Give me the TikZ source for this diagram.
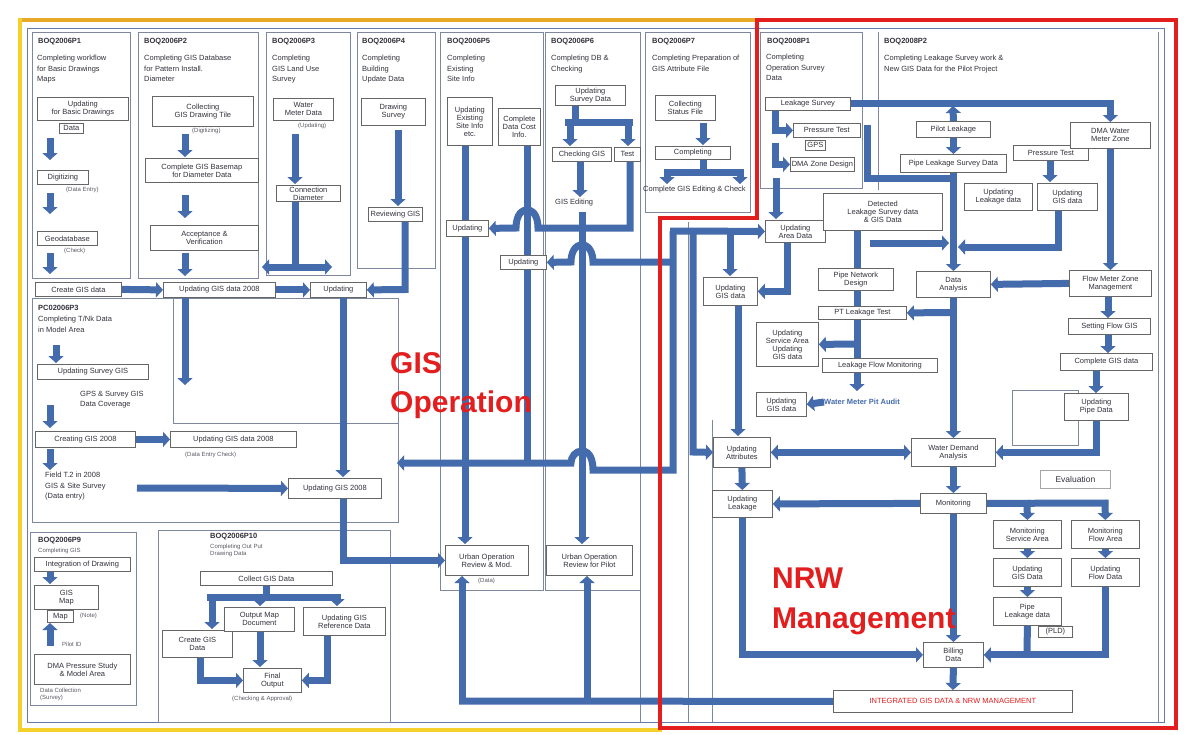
\documentclass[tikz,border=0pt]{standalone}
\usepackage{fontspec}
\setmainfont{Liberation Sans}
\usetikzlibrary{arrows.meta}
\pgfdeclarelayer{back}
\pgfdeclarelayer{bg}
\pgfsetlayers{back,bg,main}
\definecolor{ab}{RGB}{68,108,172}
\definecolor{goldt}{RGB}{232,168,40}
\definecolor{goldl}{RGB}{244,208,44}
\definecolor{nrwred}{RGB}{226,30,30}
\definecolor{pl}{RGB}{125,135,158}
\definecolor{fr}{RGB}{100,122,168}
\definecolor{txt}{RGB}{50,50,60}
\tikzset{
 bx/.style={draw=black!60, fill=white, line width=0.8pt, inner sep=1pt, font=\fontsize{7.5}{8}\selectfont, text=txt, align=center, anchor=north west},
 lbl/.style={inner sep=0pt, font=\fontsize{7.5}{10.5}\selectfont, text=txt, align=left, anchor=north west},
 sml/.style={inner sep=0pt, font=\fontsize{6}{7}\selectfont, text=txt!80, align=left, anchor=north west},
 hdr/.style={inner sep=0pt, font=\fontsize{7.5}{8}\selectfont\bfseries, text=txt, anchor=north west},
 panel/.style={draw=pl, line width=0.8pt},
 flow/.style={draw=ab, line width=7pt, -{Triangle[length=7pt,width=15pt]}},
 flowtwo/.style={draw=ab, line width=7pt, {Triangle[length=7pt,width=15pt]}-{Triangle[length=7pt,width=15pt]}},
 link/.style={draw=ab, line width=7pt},
 big/.style={font=\fontsize{30}{32}\selectfont\bfseries, text=nrwred, anchor=base west, inner sep=0pt},
}
\begin{document}
\begin{tikzpicture}[x=1pt,y=-1pt]
\useasboundingbox (0,0) rectangle (1186,734);

% ---------- panels (back layer)
\begin{pgfonlayer}{back}
\fill[white] (0,0) rectangle (1186,734);
\draw[fr, line width=1pt] (27,28) rectangle (1164,722);
\draw[panel] (32,32) rectangle (130,278);
\draw[panel] (138,32) rectangle (258,278);
\draw[panel] (266,32) rectangle (350,275);
\draw[panel] (357,32) rectangle (435,268);
\draw[panel] (440,32) rectangle (543,590);
\draw[panel] (545,32) rectangle (640,590);
\draw[panel] (645,32) rectangle (750,212);
\draw[panel] (760,32) rectangle (862,188);
\draw[panel] (878,32) -- (878,190);
\draw[panel] (1158,32) -- (1158,722);
\draw[panel] (32,298) rectangle (398,522);
\draw[panel] (173,298) -- (173,423) -- (398,423);
\draw[panel] (30,532) rectangle (136,705);
\draw[panel] (158,530) rectangle (390,722);
\draw[panel] (640,590) -- (640,722);
\draw[panel] (688,222) -- (688,722);
\draw[panel] (712,420) -- (712,722);
\draw[panel] (1012,390) rectangle (1078,445);
\end{pgfonlayer}

% ---------- panel 1
\node[hdr] (h1) at (38,38) {BOQ2006P1};
\node[lbl] (d1) at (37,55) {Completing workflow\\for Basic Drawings\\Maps};
\node[bx, minimum width=91pt, minimum height=23pt] (n11) at (37,97) {Updating\\for Basic Drawings};
\node[bx, minimum width=24pt, minimum height=10pt] (n11b) at (59,123) {Data};
\node[bx, minimum width=51pt, minimum height=14pt] (n12) at (37,170) {Digitizing};
\node[sml] (s12) at (66,187) {(Data Entry)};
\node[bx, minimum width=60pt, minimum height=14pt] (n13) at (37,231) {Geodatabase};
\node[sml] (s13) at (64,248) {(Check)};
\node[bx, minimum width=86pt, minimum height=14pt] (n14) at (35,282) {Create GIS data};

% ---------- panel 2
\node[hdr] (h2) at (144,38) {BOQ2006P2};
\node[lbl] (d2) at (144,55) {Completing GIS Database\\for Pattern Install.\\Diameter};
\node[bx, minimum width=101pt, minimum height=30pt] (n21) at (152,96) {Collecting\\GIS Drawing Tile};
\node[sml] (s21) at (192,128) {(Digitizing)};
\node[bx, minimum width=113pt, minimum height=24pt] (n22) at (145,158) {Complete GIS Basemap\\for Diameter Data};
\node[bx, minimum width=108pt, minimum height=25pt] (n23) at (150,225) {Acceptance \&\\Verification};
\node[bx, minimum width=112pt, minimum height=15pt] (n24) at (163,282) {Updating GIS data 2008};

% ---------- panel 3
\node[hdr] (h3) at (272,38) {BOQ2006P3};
\node[lbl] (d3) at (272,55) {Completing\\GIS Land Use\\Survey};
\node[bx, minimum width=60pt, minimum height=22pt] (n31) at (273,98) {Water\\Meter Data};
\node[sml] (s31) at (298,123) {(Updating)};
\node[bx, minimum width=64pt, minimum height=16pt] (n32) at (276,185) {Connection\\Diameter};
\node[bx, minimum width=56pt, minimum height=15pt] (n33) at (310,282) {Updating};

% ---------- panel 4
\node[hdr] (h4) at (362,38) {BOQ2006P4};
\node[lbl] (d4) at (362,55) {Completing\\Building\\Update Data};
\node[bx, minimum width=64pt, minimum height=27pt] (n41) at (361,98) {Drawing\\Survey};
\node[bx, minimum width=54pt, minimum height=14pt] (n42) at (368,207) {Reviewing GIS};

% ---------- middle-left panel
\node[hdr] (hm) at (38,305) {PC02006P3};
\node[lbl] (dm) at (38,316) {Completing T/Nk Data\\in Model Area};
\node[bx, minimum width=111pt, minimum height=15pt] (nM1) at (37,364) {Updating Survey GIS};
\node[lbl] (sM1) at (80,391) {GPS \& Survey GIS\\Data Coverage};
\node[bx, minimum width=100pt, minimum height=16pt] (nM2) at (35,431) {Creating GIS 2008};
\node[bx, minimum width=126pt, minimum height=16pt] (nM3) at (170,431) {Updating GIS data 2008};
\node[sml] (sM3) at (185,452) {(Data Entry Check)};
\node[lbl] (dM4) at (45,472) {Field T.2 in 2008\\GIS \& Site Survey\\(Data entry)};
\node[bx, minimum width=93pt, minimum height=20pt] (nMU) at (288,478) {Updating GIS 2008};

% ---------- panel 5
\node[hdr] (h5) at (447,38) {BOQ2006P5};
\node[lbl] (d5) at (447,55) {Completing\\Existing\\Site Info};
\node[bx, minimum width=45pt, minimum height=48pt] (n51) at (447,97) {Updating\\Existing\\Site Info\\etc.};
\node[bx, minimum width=42pt, minimum height=37pt] (n52) at (498,108) {Complete\\Data Cost\\Info.};
\node[bx, minimum width=42pt, minimum height=16pt] (nW) at (446,220) {Updating};
\node[bx, minimum width=46pt, minimum height=14pt] (n53) at (500,255) {Updating};
\node[bx, minimum width=83pt, minimum height=30pt] (nU1) at (445,545) {Urban Operation\\Review \& Mod.};
\node[bx, minimum width=86pt, minimum height=30pt] (nU2) at (546,545) {Urban Operation\\Review for Pilot};
\node[sml] (sU1) at (478,578) {(Data)};

% ---------- panel 6
\node[hdr] (h6) at (551,38) {BOQ2006P6};
\node[lbl] (d6) at (551,55) {Completing DB \&\\Checking};
\node[bx, minimum width=70pt, minimum height=20pt] (n61) at (555,85) {Updating\\Survey Data};
\node[bx, minimum width=59pt, minimum height=14pt] (n62) at (552,147) {Checking GIS};
\node[bx, minimum width=26pt, minimum height=14pt] (n63) at (614,147) {Test};
\node[lbl] (s62) at (555,199) {GIS Editing};

% ---------- panel 7
\node[hdr] (h7) at (652,38) {BOQ2006P7};
\node[lbl] (d7) at (652,55) {Completing Preparation of\\GIS Attribute File};
\node[bx, minimum width=60pt, minimum height=25pt] (n71) at (655,95) {Collecting\\Status File};
\node[bx, minimum width=75pt, minimum height=13pt] (n72) at (655,146) {Completing};
\node[lbl] (s72) at (643,186) {Complete GIS Editing \& Check};

% ---------- panel 8 (NRW)
\node[hdr] (h8) at (767,38) {BOQ2008P1};
\node[lbl] (d8) at (766,54) {Completing\\Operation Survey\\Data};
\node[bx, minimum width=85pt, minimum height=13pt] (n81) at (765,97) {Leakage Survey};
\node[bx, minimum width=67pt, minimum height=14pt] (n8Pt) at (793,123) {Pressure Test};
\node[bx, minimum width=20pt, minimum height=10pt] (n8gps) at (805,140) {GPS};
\node[bx, minimum width=64pt, minimum height=14pt] (n8Z) at (790,157) {DMA Zone Design};
\node[bx, minimum width=60pt, minimum height=22pt] (n8U) at (765,220) {Updating\\Area Data};
\node[bx, minimum width=54pt, minimum height=28pt] (n8G) at (703,277) {Updating\\GIS data};
\node[bx, minimum width=119pt, minimum height=37pt] (n8D) at (823,193) {Detected\\Leakage Survey data\\\& GIS Data};
\node[bx, minimum width=75pt, minimum height=22pt] (n8P) at (818,268) {Pipe Network\\Design};
\node[bx, minimum width=88pt, minimum height=13pt] (n8T) at (818,306) {PT Leakage Test};
\node[bx, minimum width=62pt, minimum height=44pt] (n8S) at (756,322) {Updating\\Service Area\\Updating\\GIS data};
\node[bx, minimum width=115pt, minimum height=14pt] (n8M) at (822,358) {Leakage Flow Monitoring};
\node[bx, minimum width=50pt, minimum height=24pt] (n8G2) at (756,392) {Updating\\GIS data};
\node[anchor=west, inner sep=0pt, font=\fontsize{7.5}{8}\selectfont\bfseries, text=ab] (wm) at (824,402) {Water Meter Pit Audit};
\node[bx, minimum width=57pt, minimum height=30pt] (nUA) at (713,437) {Updating\\Attributes};

% ---------- panel 9 (NRW)
\node[hdr] (h9) at (884,38) {BOQ2008P2};
\node[lbl] (d9) at (884,55) {Completing Leakage Survey work \&\\New GIS Data for the Pilot Project};
\node[bx, minimum width=74pt, minimum height=16pt] (n9L) at (916,121) {Pilot Leakage};
\node[bx, minimum width=106pt, minimum height=18pt] (n9S) at (900,154) {Pipe Leakage Survey Data};
\node[bx, minimum width=75pt, minimum height=15pt] (n9P) at (1013,145) {Pressure Test};
\node[bx, minimum width=68pt, minimum height=27pt] (n9U1) at (964,183) {Updating\\Leakage data};
\node[bx, minimum width=60pt, minimum height=27pt] (n9U2) at (1037,183) {Updating\\GIS data};
\node[bx, minimum width=80pt, minimum height=26pt] (n9F) at (1070,122) {DMA Water\\Meter Zone};
\node[bx, minimum width=82pt, minimum height=26pt] (n9FM) at (1069,270) {Flow Meter Zone\\Management};
\node[bx, minimum width=74pt, minimum height=26pt] (n9A) at (916,271) {Data\\Analysis};
\node[bx, minimum width=82pt, minimum height=16pt] (n9SF) at (1068,318) {Setting Flow GIS};
\node[bx, minimum width=92pt, minimum height=17pt] (n9CG) at (1060,353) {Complete GIS data};
\node[bx, minimum width=64pt, minimum height=27pt] (n9UF) at (1064,393) {Updating\\Pipe Data};
\node[bx, minimum width=84pt, minimum height=28pt] (nWD) at (911,438) {Water Demand\\Analysis};
\node[bx, minimum width=70pt, minimum height=18pt, draw=black!35, font=\fontsize{8.5}{9}\selectfont] (nEv) at (1040,470) {Evaluation};
\node[bx, minimum width=66pt, minimum height=20pt] (nMo) at (920,493) {Monitoring};
\node[bx, minimum width=60pt, minimum height=27pt] (nUL) at (712,490) {Updating\\Leakage};
\node[bx, minimum width=68pt, minimum height=28pt] (nMS) at (993,520) {Monitoring\\Service Area};
\node[bx, minimum width=68pt, minimum height=28pt] (nMF) at (1071,520) {Monitoring\\Flow Area};
\node[bx, minimum width=68pt, minimum height=28pt] (nUG) at (993,558) {Updating\\GIS Data};
\node[bx, minimum width=68pt, minimum height=28pt] (nUFD) at (1071,558) {Updating\\Flow Data};
\node[bx, minimum width=68pt, minimum height=28pt] (nPL) at (993,597) {Pipe\\Leakage data};
\node[bx, minimum width=34pt, minimum height=11pt] (nPLD) at (1038,626) {(PLD)};
\node[bx, minimum width=60pt, minimum height=25pt] (nBi) at (923,642) {Billing\\Data};
\node[bx, minimum width=239pt, minimum height=22pt, text=nrwred] (nRed) at (833,690) {INTEGRATED GIS DATA \& NRW MANAGEMENT};

% ---------- bottom-left panel
\node[hdr] (hb1) at (38,537) {BOQ2006P9};
\node[sml] (db1) at (38,548) {Completing GIS};
\node[bx, minimum width=96pt, minimum height=14pt] (nBL1) at (34,557) {Integration of Drawing};
\node[bx, minimum width=64pt, minimum height=24pt] (nBL2) at (34,585) {GIS\\Map};
\node[bx, minimum width=26pt, minimum height=12pt] (nBL3) at (47,610) {Map};
\node[sml] (sBL3) at (80,613) {(Note)};
\node[sml] (sBL4) at (62,642) {Pilot ID};
\node[bx, minimum width=96pt, minimum height=30pt] (nBL4) at (34,654) {DMA Pressure Study\\\& Model Area};
\node[sml] (sBL5) at (40,688) {Data Collection\\(Survey)};

% ---------- bottom-mid panel
\node[hdr] (hb2) at (210,533) {BOQ2006P10};
\node[sml] (db2) at (210,544) {Completing Out Put\\Drawing Data};
\node[bx, minimum width=132pt, minimum height=14pt] (nB1) at (200,571) {Collect GIS Data};
\node[bx, minimum width=70pt, minimum height=27pt] (nB2) at (162,630) {Create GIS\\Data};
\node[bx, minimum width=70pt, minimum height=24pt] (nB3) at (224,607) {Output Map\\Document};
\node[bx, minimum width=82pt, minimum height=28pt] (nB4) at (303,607) {Updating GIS\\Reference Data};
\node[bx, minimum width=58pt, minimum height=24pt] (nB5) at (243,668) {Final\\Output};
\node[sml] (sB5) at (232,696) {(Checking \& Approval)};

% ---------- connectors
\begin{pgfonlayer}{bg}
% panel 1
\draw[flow] (50,138) -- (50,160);
\draw[flow] (50,193) -- (50,214);
\draw[flow] (50,253) -- (50,274);
\draw[flow] (n14.east) -- (n24.west);
% panel 2
\draw[flow] (185,134) -- (185,157);
\draw[flow] (185,195) -- (185,218);
\draw[flow] (185,253) -- (185,276);
\draw[flow] (185,297) -- (185,385);
% panel 3
\draw[flow] (295,134) -- (295,184);
\draw[link] (295,201) -- (295,267);
\draw[flowtwo] (262,267) -- (332,267);
\draw[flow] (n24.east) -- (n33.west);
% panel 4
\draw[flow] (398,130) -- (398,206);
\draw[flow] (405,221) -- (405,289.5) -- (n33.east);
\draw[flow] (343,297) -- (343,477);
\draw[flow] (343,498) |- (nU1.west);
% middle-left
\draw[flow] (56,345) -- (56,363);
\draw[flow] (50,405) -- (50,428);
\draw[flow] (nM2.east) -- (nM3.west);
\draw[flow] (50,449) -- (50,470);
\draw[flow] (137,488) -- (nMU.west);
% panel 5 / 6
\draw[flow] (465,146) -- (465,544);
\draw[link] (527,146) -- (527,466);
\draw[link] (575,105) -- (575,122);
\draw[link] (565,122) -- (633,122);
\draw[flow] (570,119) -- (570,146);
\draw[flow] (628,119) -- (628,146);
\draw[flow] (580,161) -- (580,197);
\draw[flow] (582,212) -- (582,544);
\draw[flow] (630,161) -- (630,228) -- (538,228) to[out=90,in=0] (527,210) to[out=180,in=90] (516,228) -- (nW.east);
\draw[flow] (673,262) -- (593,262) to[out=90,in=0] (582,245) to[out=180,in=90] (571,262) -- (n53.east);
\draw[flow] (673,231) -- (673,470) -- (593,470) to[out=90,in=0] (582,451) to[out=180,in=90] (571,463) -- (397,463);
% panel 7
\draw[flow] (703,123) -- (703,145);
\draw[link] (703,159) -- (703,172);
\draw[link] (664,172) -- (743,172);
\draw[flow] (667,169) -- (667,184);
\draw[flow] (740,169) -- (740,184);
% NRW left
\draw[flow] (670,231) -- (n8U.west);
\draw[flow] (693,231) -- (693,452) -- (nUA.west);
\draw[flow] (730,231) -- (730,276);
\draw[flow] (787,242) |- (n8G.east);
\draw[flow] (738,305) -- (738,436);
% panel 8
\draw[flow] (n81.east) -| (n9F.north);
\draw[flow] (775,110) |- (n8Pt.west);
\draw[flow] (775,143) |- (n8Z.west);
\draw[flow] (776,178) -- (776,219);
\draw[link] (867,125) -- (867,178) -- (950,178);
\draw[flow] (870,243) -- (949,243);
\draw[flow] (857,230) -- (857,391);
\draw[flow] (857,344) -- (n8S.east);
\draw[flow] (950,312.5) -- (n8T.east);
\draw[flow] (wm.west) -- (n8G2.east);
% panel 9
\draw[flow] (n9L.north) -- (953,106);
\draw[flow] (n9L.south) -- (n9S.north);
\draw[flow] (n9S.south) -- (n9A.north);
\draw[flow] (1050,160) -- (1050,182);
\draw[flow] (1058,210) -- (1058,247) -- (958,247);
\draw[flow] (n9F.south) -- (n9FM.north);
\draw[flow] (n9FM.west) -- (n9A.east);
\draw[flow] (1108,296) -- (1108,318);
\draw[flow] (1108,334) -- (1108,353);
\draw[flow] (1096,370) -- (1096,393);
\draw[flow] (n9UF.south) |- (nWD.east);
\draw[flow] (n9A.south) -- (nWD.north);
\draw[flowtwo] (nUA.east) -- (nWD.west);
\draw[flow] (nWD.south) -- (nMo.north);
\draw[flow] (nUA.south) -- (nUL.north);
\draw[flow] (nMo.west) -- (nUL.east);
\draw[link] (nMo.east) -- (1108,503);
\draw[flow] (1027,500) -- (nMS.north);
\draw[flow] (1105,500) -- (nMF.north);
\draw[flow] (nMS.south) -- (nUG.north);
\draw[flow] (nUG.south) -- (nPL.north);
\draw[flow] (nMF.south) -- (nUFD.north);
\draw[link] (nPL.south) -- (1027,654.5);
\draw[flow] (nUFD.south) |- (nBi.east);
\draw[flow] (nMo.south) -- (nBi.north);
\draw[flow] (nUL.south) |- (nBi.west);
\draw[flow] (nBi.south) -- (nRed.north);
\draw[link] (nRed.west) -- (459,701);
\draw[flow] (462,704) -- (462,576);
\draw[flow] (587,704) -- (587,576);
% bottom-left
\draw[flow] (50,571) -- (50,584);
\draw[flow] (50,646) -- (50,623);
% bottom-mid
\draw[link] (266,585) -- (266,597);
\draw[link] (207,597) -- (340,597);
\draw[flow] (212,594) -- (212,629);
\draw[flow] (260,594) -- (260,606);
\draw[flow] (337,594) -- (337,606);
\draw[flow] (200,657) |- (nB5.west);
\draw[flow] (327,635) |- (nB5.east);
\draw[flow] (260,631) -- (260,667);
\end{pgfonlayer}

% ---------- big labels
\node[big] (gis) at (390,373) {GIS};
\node[big] (oper) at (390,412) {Operation};
\node[big] (nrw) at (772,588) {NRW};
\node[big] (mgmt) at (772,628) {Management};

% ---------- frames
\draw[goldt, line width=4pt] (757,20) -- (18,20);
\draw[goldl, line width=4pt] (20,18) -- (20,730) -- (662,730);
\draw[nrwred, line width=4.5pt, line join=miter] (757,20) -- (1176,20) -- (1176,728) -- (660,728) -- (660,218) -- (757,218) -- cycle;
\end{tikzpicture}
\end{document}
